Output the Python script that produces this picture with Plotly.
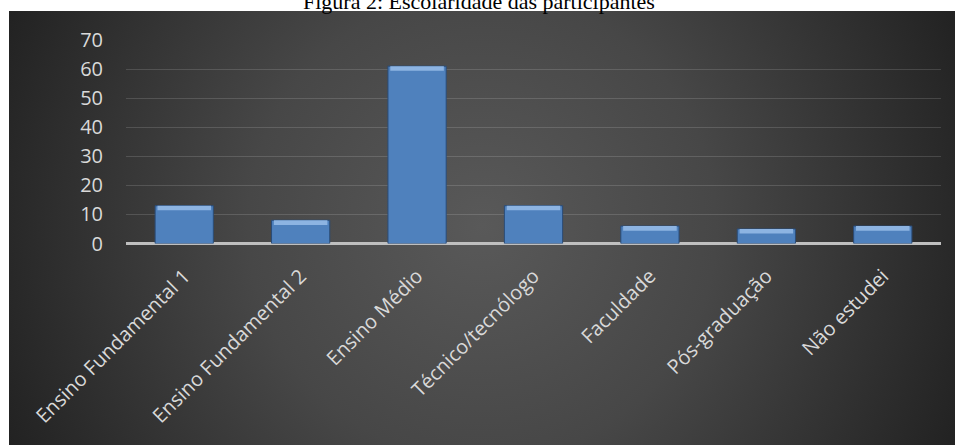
import base64
import plotly.graph_objects as go

# ---- data ----
categories = ["Ensino Fundamental 1", "Ensino Fundamental 2", "Ensino Médio",
              "Técnico/tecnólogo", "Faculdade", "Pós-graduação", "Não estudei"]
values = [13, 8, 61, 13, 6, 5, 6]
y_ticks = [0, 10, 20, 30, 40, 50, 60, 70]
title_text = "Figura 2: Escolaridade das participantes"

W, H = 957, 445
BAR_COLOR = "#4f81bd"
BEVEL_COLOR = "#8db4e2"
TEXT_COLOR = "#d9d9d9"
FONT = "Open Sans"

# dark radial-gradient panel as an SVG background image
svg = ('<svg xmlns="http://www.w3.org/2000/svg" width="946" height="434" viewBox="0 0 946 434" '
       'preserveAspectRatio="none"><defs><radialGradient id="g" gradientUnits="userSpaceOnUse" '
       'cx="473" cy="215" r="520"><stop offset="0" stop-color="#595959"/>'
       '<stop offset="0.45" stop-color="#474747"/><stop offset="1" stop-color="#222222"/>'
       '</radialGradient></defs><rect width="946" height="434" fill="url(#g)"/></svg>')
svg_uri = "data:image/svg+xml;base64," + base64.b64encode(svg.encode()).decode()

bevel = 1.6
fig = go.Figure()
fig.add_trace(go.Bar(
    x=categories, y=values, width=0.5,
    marker=dict(color=BAR_COLOR, line=dict(color="#2a4c78", width=1)),
    hoverinfo="skip",
))
fig.add_trace(go.Bar(
    x=categories, y=[bevel] * len(values), base=[v - bevel for v in values], width=0.46,
    marker=dict(color=BEVEL_COLOR, line=dict(width=0)),
    hoverinfo="skip",
))

fig.update_layout(
    width=W, height=H, autosize=False,
    margin=dict(l=0, r=0, t=0, b=0),
    paper_bgcolor="white", plot_bgcolor="rgba(0,0,0,0)",
    barmode="overlay", showlegend=False,
    images=[dict(source=svg_uri, xref="paper", yref="paper",
                 x=9 / W, y=1 - 11 / H, sizex=(955 - 9) / W, sizey=(445 - 11) / H,
                 xanchor="left", yanchor="top", sizing="stretch", layer="below")],
    annotations=[dict(text=title_text, xref="paper", yref="paper",
                      x=479 / W, y=1 - 16 / H, xanchor="center", yanchor="bottom",
                      showarrow=False,
                      font=dict(family="Liberation Serif", size=22, color="black"))],
    xaxis=dict(
        domain=[126 / W, 941 / W], type="category", range=[-0.5, 6.5],
        tickangle=-45, tickfont=dict(family=FONT, size=20, color=TEXT_COLOR),
        showgrid=False, showline=False, ticks="", automargin=False,
        ticklabelstandoff=16, fixedrange=True,
    ),
    yaxis=dict(
        domain=[(H - 243.5) / H, (H - 40) / H], range=[0, 70],
        tickvals=y_ticks, tickfont=dict(family=FONT, size=20, color=TEXT_COLOR),
        showgrid=True, gridcolor="rgba(255,255,255,0.14)", gridwidth=1,
        zeroline=True, zerolinecolor="#bfbfbf", zerolinewidth=2.5,
        showline=False, ticks="", automargin=False, ticklabelstandoff=22,
        fixedrange=True,
    ),
)

fig.write_html("out.html", config={"displayModeBar": False})
